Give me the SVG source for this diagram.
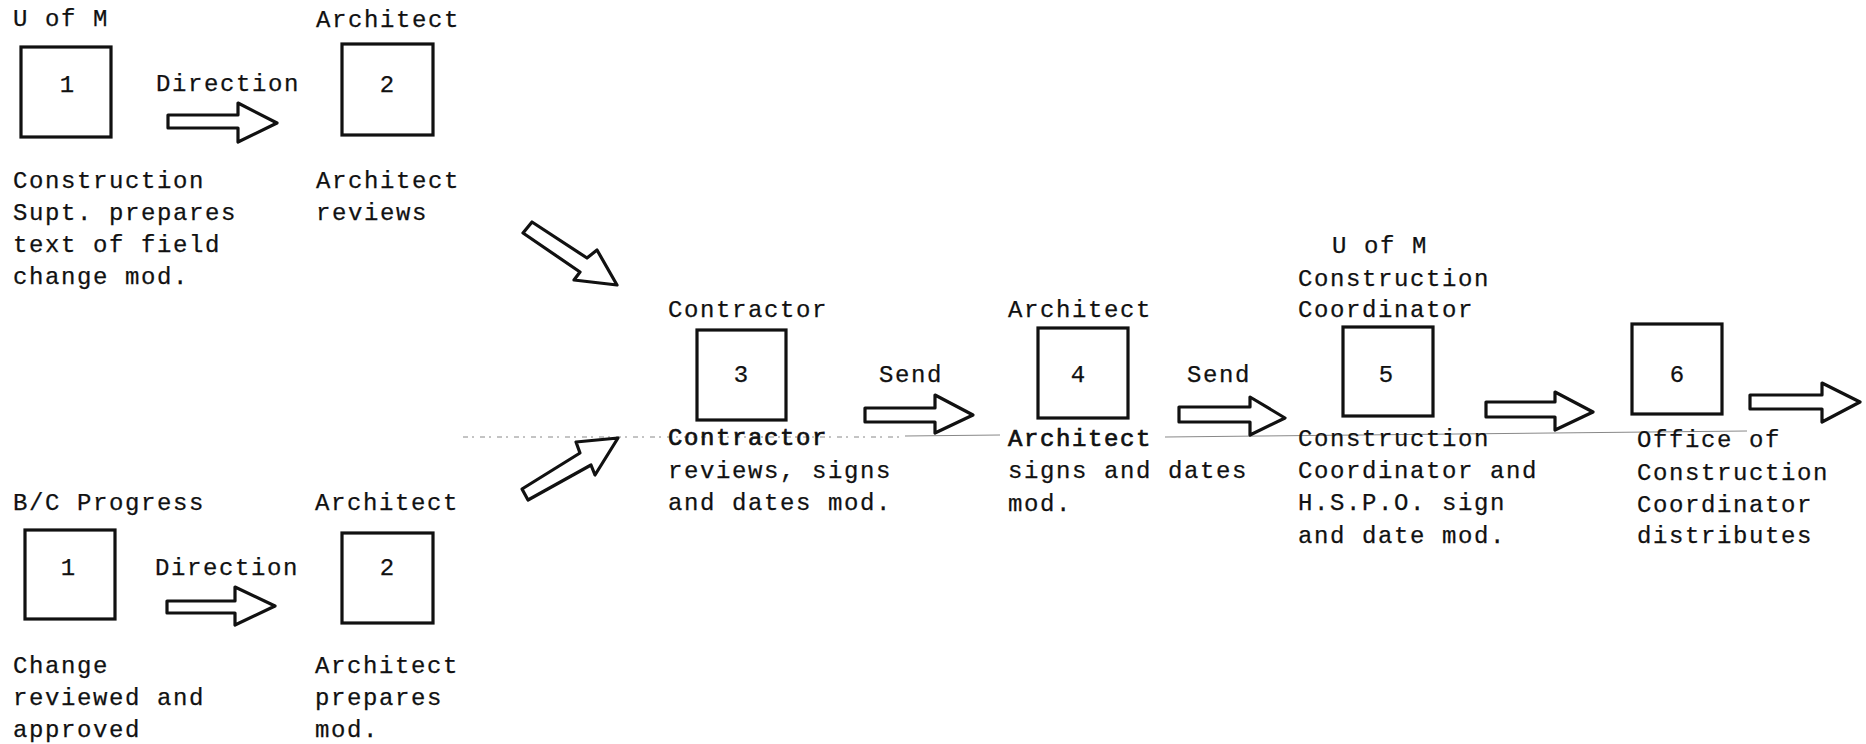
<svg xmlns="http://www.w3.org/2000/svg" width="1866" height="744" viewBox="0 0 1866 744">
<style>
text{font-family:"Liberation Mono","DejaVu Sans Mono",monospace;font-size:24px;letter-spacing:1.6px;fill:#111;stroke:#111;stroke-width:0.25}
.num{text-anchor:middle;letter-spacing:0}
.box{fill:#fff;stroke:#111;stroke-width:3.2}
.arr{fill:#fff;stroke:#111;stroke-width:3.2;stroke-linejoin:round}
.hv{stroke-width:0.7}
.scan{fill:none;stroke:#888;stroke-width:1}
</style>
<rect width="1866" height="744" fill="#fff"/>
<g id="scan-lines">
<line class="scan" x1="463" y1="437" x2="905" y2="437" stroke-dasharray="5 4 2 6" stroke="#c4c4c4"/>
<line class="scan" x1="905" y1="436" x2="1000" y2="435" stroke="#777"/>
<line class="scan" x1="1165" y1="437" x2="1747" y2="431" stroke="#666"/>
</g>
<g id="connectors">
<path class="arr" d="M168,115 L238,115 L238,103 L277,123 L238,142 L238,128 L168,128 Z"/>
<path class="arr" d="M167,601 L235,601 L235,587 L275,606 L235,625 L235,613 L167,613 Z"/>
<path class="arr" d="M532,222 L587,258 L597,250 L617,285 L574,280 L580,272 L523,233 Z"/>
<path class="arr" d="M522,489 L580,453 L576,442 L618,438 L595,475 L591,465 L528,500 Z"/>
<path class="arr" d="M865,408 L935,408 L935,395 L973,415 L935,433 L935,422 L865,422 Z"/>
<path class="arr" d="M1179,407 L1250,407 L1250,397 L1285,418 L1250,435 L1250,422 L1179,422 Z"/>
<path class="arr" d="M1486,402 L1555,402 L1555,392 L1593,412 L1555,430 L1555,417 L1486,417 Z"/>
<path class="arr" d="M1750,395 L1822,395 L1822,383 L1860,402 L1822,422 L1822,409 L1750,409 Z"/>
<text x="156" y="91">Direction</text>
<text x="155" y="575">Direction</text>
<text x="879" y="382">Send</text>
<text x="1187" y="382">Send</text>
</g>
<g id="node-1a">
<text x="13" y="26">U of M</text>
<rect class="box" x="21" y="47" width="90" height="90"/>
<text class="num" x="67" y="92">1</text>
<text x="13" y="188">Construction</text>
<text x="13" y="220">Supt. prepares</text>
<text x="13" y="252">text of field</text>
<text x="13" y="284">change mod.</text>
</g>
<g id="node-2a">
<text x="316" y="27">Architect</text>
<rect class="box" x="342" y="44" width="91" height="91"/>
<text class="num" x="387" y="92">2</text>
<text x="316" y="188">Architect</text>
<text x="316" y="220">reviews</text>
</g>
<g id="node-1b">
<text x="13" y="510">B/C Progress</text>
<rect class="box" x="25" y="530" width="90" height="89"/>
<text class="num" x="68" y="575">1</text>
<text x="13" y="673">Change</text>
<text x="13" y="705">reviewed and</text>
<text x="13" y="737">approved</text>
</g>
<g id="node-2b">
<text x="315" y="510">Architect</text>
<rect class="box" x="342" y="533" width="91" height="90"/>
<text class="num" x="387" y="575">2</text>
<text x="315" y="673">Architect</text>
<text x="315" y="705">prepares</text>
<text x="315" y="737">mod.</text>
</g>
<g id="node-3">
<text x="668" y="317">Contractor</text>
<rect class="box" x="697" y="330" width="89" height="90"/>
<text class="num" x="741" y="382">3</text>
<text class="hv" x="668" y="445">Contractor</text>
<text x="668" y="478">reviews, signs</text>
<text x="668" y="510">and dates mod.</text>
</g>
<g id="node-4">
<text x="1008" y="317">Architect</text>
<rect class="box" x="1038" y="328" width="90" height="90"/>
<text class="num" x="1078" y="382">4</text>
<text class="hv" x="1008" y="446">Architect</text>
<text x="1008" y="478">signs and dates</text>
<text x="1008" y="511">mod.</text>
</g>
<g id="node-5">
<text x="1332" y="253">U of M</text>
<text x="1298" y="286">Construction</text>
<text x="1298" y="317">Coordinator</text>
<rect class="box" x="1343" y="327" width="90" height="89"/>
<text class="num" x="1386" y="382">5</text>
<text x="1298" y="446">Construction</text>
<text x="1298" y="478">Coordinator and</text>
<text x="1298" y="510">H.S.P.O. sign</text>
<text x="1298" y="543">and date mod.</text>
</g>
<g id="node-6">
<rect class="box" x="1632" y="324" width="90" height="90"/>
<text class="num" x="1677" y="382">6</text>
<text x="1637" y="447">Office of</text>
<text x="1637" y="480">Construction</text>
<text x="1637" y="512">Coordinator</text>
<text x="1637" y="543">distributes</text>
</g>
</svg>
